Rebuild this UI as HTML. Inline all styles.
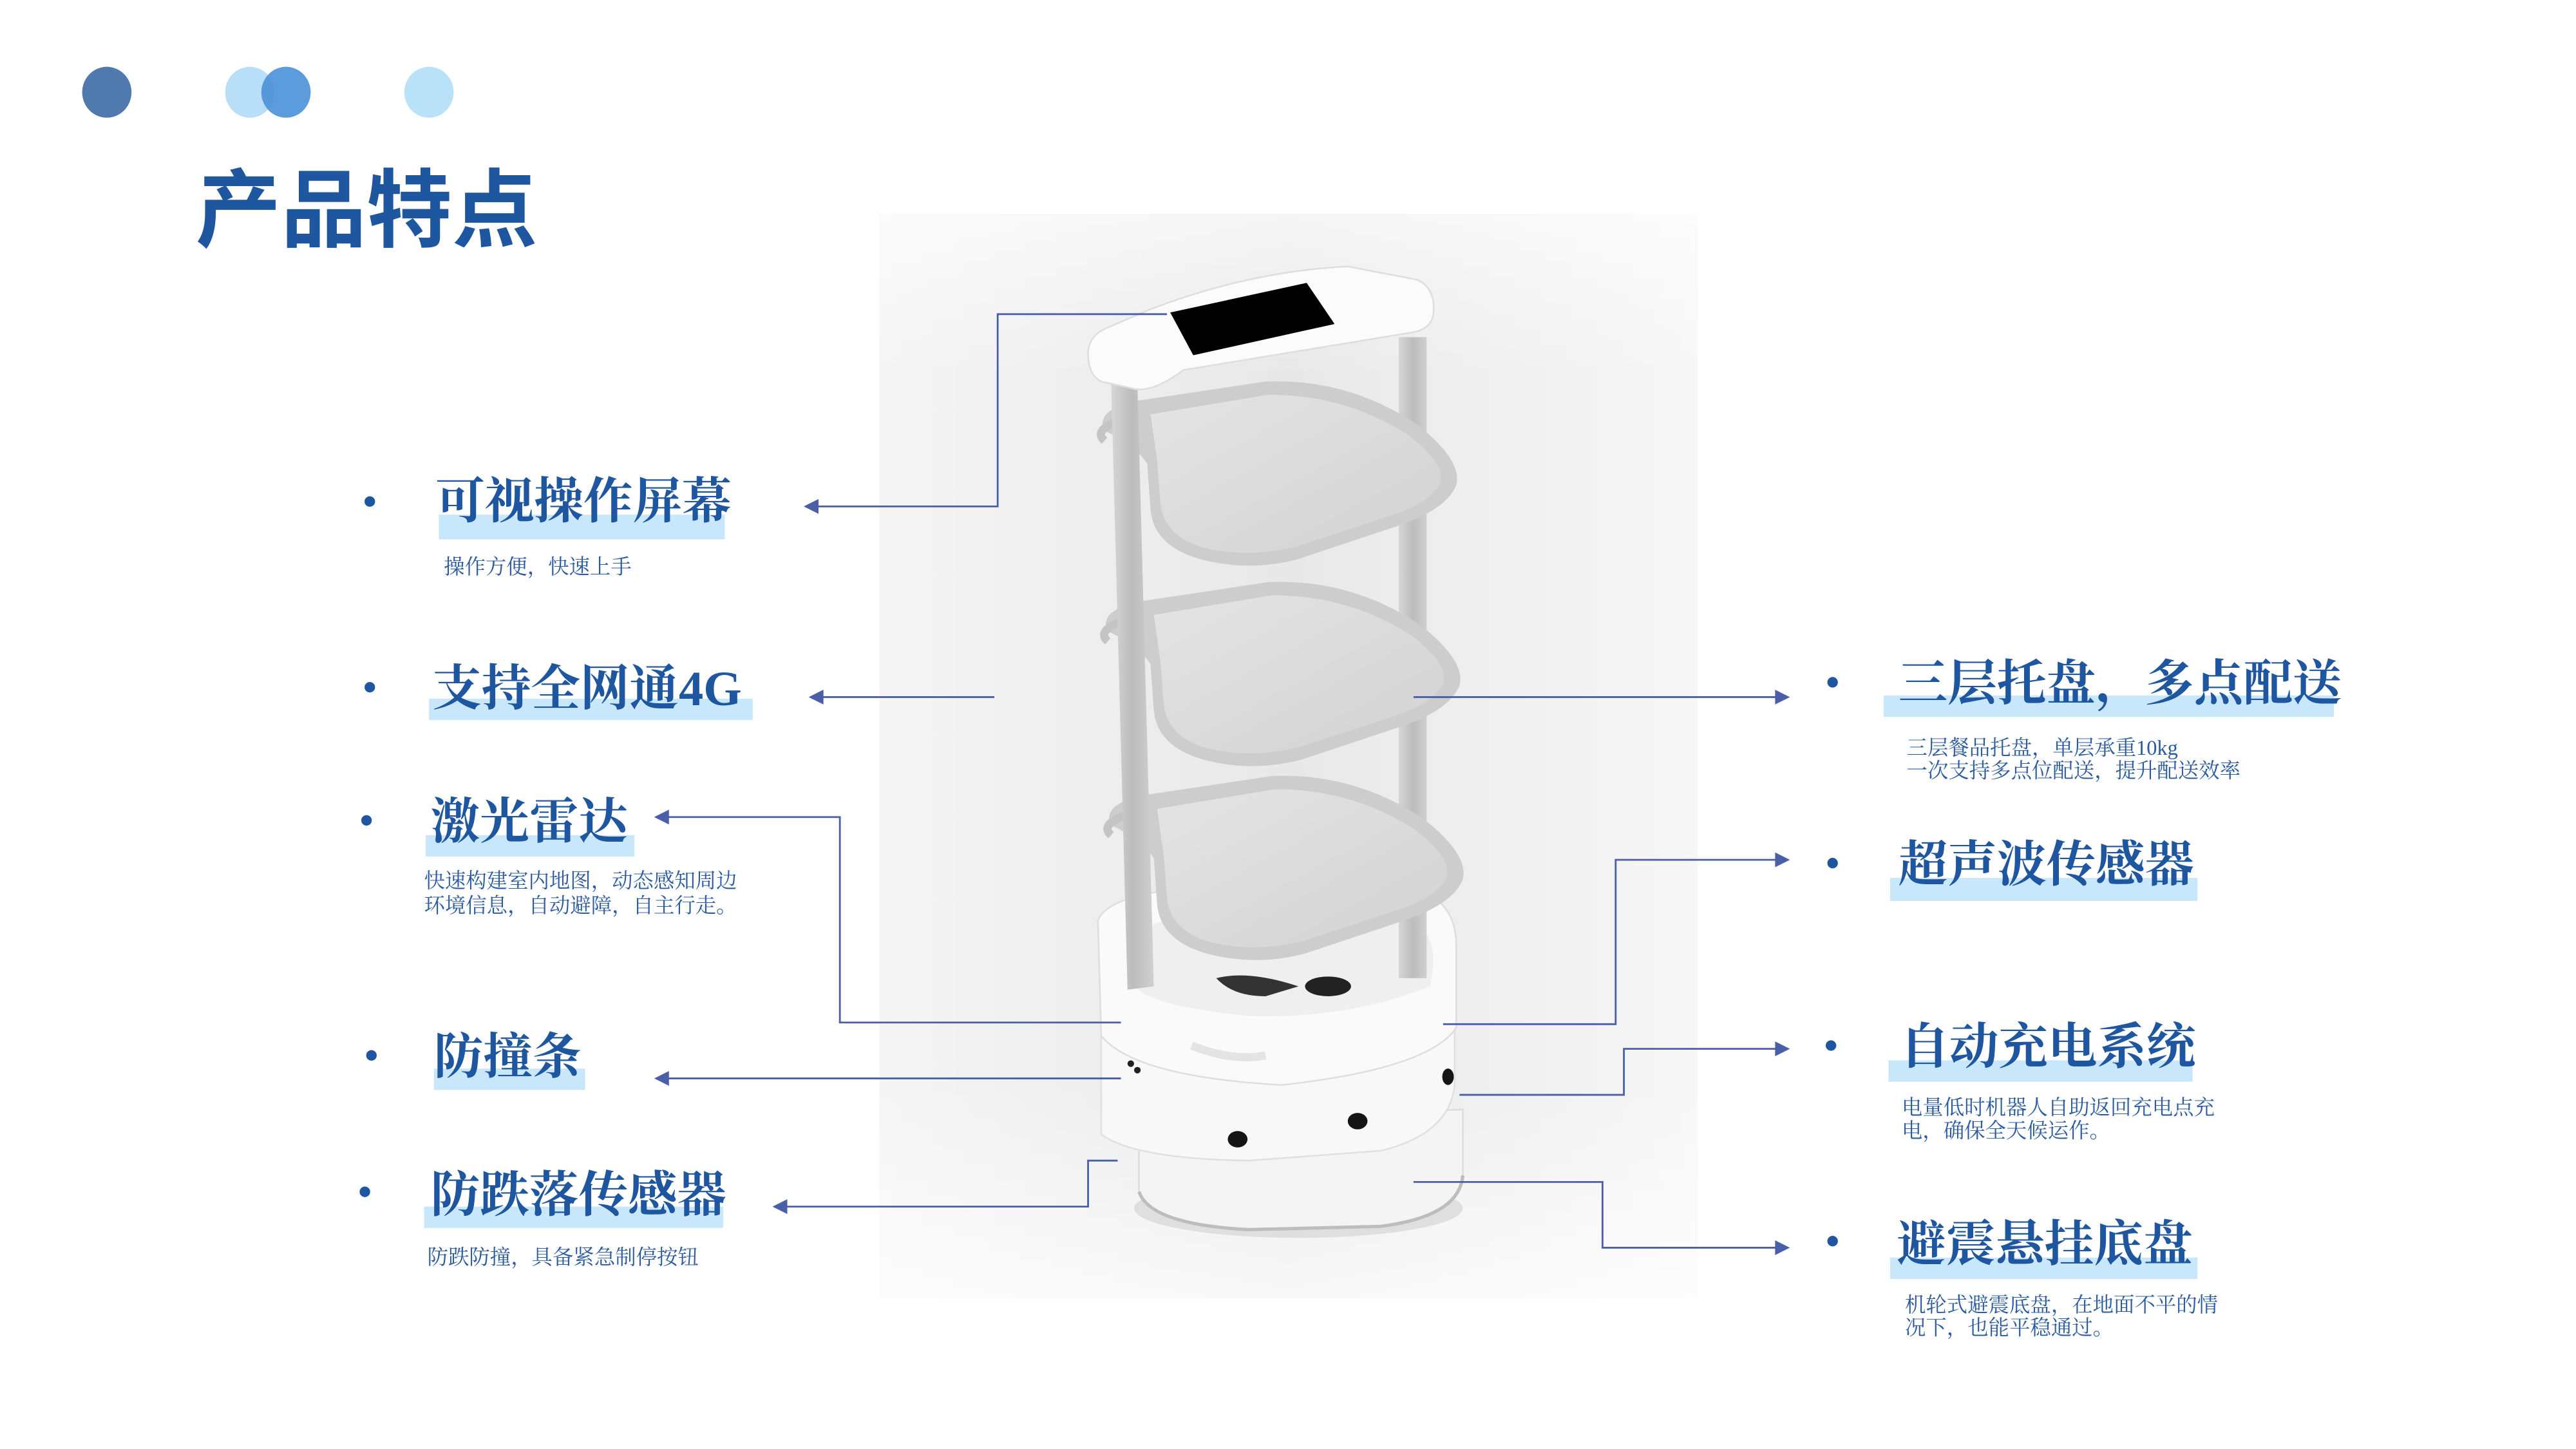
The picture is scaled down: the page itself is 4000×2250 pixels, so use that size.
<!DOCTYPE html>
<html><head><meta charset="utf-8"><style>
html,body{margin:0;padding:0;background:#fff;width:4000px;height:2250px;overflow:hidden}
svg{display:block}
.t{font-family:"Liberation Serif","Noto Serif CJK SC",serif;font-weight:700;font-size:30px;fill:#1f56a0}
.d{font-family:"Liberation Serif","Noto Serif CJK SC",serif;font-size:12.7px;fill:#2a5aa0}
.h{fill:#c9e7fb}
.b{fill:#1f56a0}
.l{stroke:#4a5fa8;stroke-width:1.1;fill:none}
.a{fill:#4a5fa8}
</style></head><body>
<svg width="4000" height="2250" viewBox="0 0 1556 875" xmlns="http://www.w3.org/2000/svg">
<defs>
<linearGradient id="bg" x1="0" y1="0" x2="1" y2="0">
<stop offset="0" stop-color="#f5f5f5"/><stop offset="0.5" stop-color="#e8e8e8"/><stop offset="1" stop-color="#f7f7f7"/>
</linearGradient>
<linearGradient id="fade" x1="0" y1="0" x2="0" y2="1">
<stop offset="0" stop-color="#fff" stop-opacity="0.6"/><stop offset="0.15" stop-color="#fff" stop-opacity="0"/><stop offset="0.8" stop-color="#fff" stop-opacity="0"/><stop offset="1" stop-color="#fff" stop-opacity="0.7"/>
</linearGradient>
<linearGradient id="tray" x1="0" y1="0" x2="1" y2="1">
<stop offset="0" stop-color="#e4e4e4"/><stop offset="1" stop-color="#d2d2d2"/>
</linearGradient>
<linearGradient id="pole" x1="0" y1="0" x2="1" y2="0">
<stop offset="0" stop-color="#d6d6d6"/><stop offset="0.5" stop-color="#bcbcbc"/><stop offset="1" stop-color="#d0d0d0"/>
</linearGradient>
<g id="tr">
<path d="M672,262 Q666,250 690,244 L770,232 Q820,230 862,258 Q890,280 886,295 Q880,310 850,320 L790,340 Q760,348 730,340 Q702,332 700,310 L698,282 Q690,270 672,262 Z" fill="#cdcdcd"/>
<path d="M700,252 L772,240 Q818,240 856,264 Q880,282 876,294 Q870,306 845,314 L790,332 Q760,340 732,333 Q708,326 706,306 L704,280 Z" fill="url(#tray)"/>
<path d="M672,268 Q665,262 680,256" stroke="#c4c4c4" stroke-width="5" fill="none"/>
</g>
</defs>
<g transform="scale(0.9928)">
<ellipse cx="65" cy="56" rx="15" ry="15.5" fill="#5079ad"/>
<ellipse cx="152" cy="56" rx="15" ry="15.5" fill="#b9def8"/>
<ellipse cx="174" cy="56" rx="15" ry="15.5" fill="#4a90d8" opacity="0.9"/>
<ellipse cx="261" cy="56" rx="15" ry="15.5" fill="#b9e2f9"/>
<text x="119" y="146" font-family="'Liberation Sans','Noto Sans CJK SC',sans-serif" font-weight="700" font-size="52" fill="#1f56a0">产品特点</text>

<rect x="535" y="130" width="498" height="660" fill="url(#bg)"/>
<rect x="535" y="130" width="498" height="660" fill="url(#fade)"/>

<ellipse cx="790" cy="735" rx="100" ry="18" fill="#d0d0d0" opacity="0.6"/>
<path d="M693,680 L693,725 Q700,745 760,748 L840,746 Q888,740 890,715 L890,675 Z" fill="#f4f4f4" stroke="#dcdcdc"/>
<path d="M693,725 Q700,745 760,748 L840,746 Q888,740 890,715" fill="none" stroke="#bdbdbd" stroke-width="2"/>
<path d="M670,610 L670,690 Q690,705 760,706 L840,700 Q882,690 885,660 L885,610 Z" fill="#f8f8f8" stroke="#e0e0e0"/>
<path d="M668,560 Q675,540 760,538 L860,540 Q886,548 886,575 L886,625 Q870,650 780,660 Q690,655 670,630 Z" fill="#fafafa" stroke="#dedede"/>
<path d="M690,570 Q700,555 770,555 L855,558 Q878,566 870,600 Q820,620 760,618 Q700,612 690,600 Z" fill="#efefef"/>
<ellipse cx="808" cy="600" rx="14" ry="6" fill="#222"/>
<path d="M740,595 Q760,590 790,600 L770,606 Q750,606 740,595Z" fill="#333"/>
<path d="M725,636 Q750,646 770,642" stroke="#e4e4e4" stroke-width="5" fill="none"/>
<ellipse cx="753" cy="693" rx="6" ry="5" fill="#151515"/>
<ellipse cx="826" cy="682" rx="6" ry="5" fill="#151515"/>
<ellipse cx="881" cy="655" rx="3.5" ry="5" fill="#151515"/>
<circle cx="688" cy="647" r="2" fill="#222"/><circle cx="692" cy="651" r="2" fill="#222"/>
<rect x="851" y="205" width="17" height="390" fill="url(#pole)"/>
<use href="#tr"/>
<use href="#tr" transform="translate(2,122)"/>
<use href="#tr" transform="translate(4,240)"/>
<path d="M676,232 L692,232 L702,600 L686,602 Z" fill="url(#pole)"/>
<path d="M662,215 Q662,205 672,200 L700,188 Q760,165 820,162 L862,170 Q874,175 872,192 Q870,200 860,202 L720,225 Q700,240 688,236 L670,232 Q662,228 662,215Z" fill="#fbfbfb" stroke="#dedede"/>
<path d="M712,190 L795,172 L812,197 L726,216 Z" fill="#000"/>

<polyline class="l" points="710,191 607,191 607,308 496,308"/>
<polygon class="a" points="489,308 498,303.5 498,312.5"/>
<line class="l" x1="605" y1="424" x2="500" y2="424"/>
<polygon class="a" points="492,424 501,419.5 501,428.5"/>
<polyline class="l" points="682,622 511,622 511,497 406,497"/>
<polygon class="a" points="398,497 407,492.5 407,501.5"/>
<line class="l" x1="682" y1="656" x2="406" y2="656"/>
<polygon class="a" points="398,656 407,651.5 407,660.5"/>
<polyline class="l" points="680,706 662,706 662,734 478,734"/>
<polygon class="a" points="470,734 479,729.5 479,738.5"/>
<line class="l" x1="860" y1="424" x2="1081" y2="424"/>
<polygon class="a" points="1089,424 1080,419.5 1080,428.5"/>
<polyline class="l" points="878,623 983,623 983,523 1081,523"/>
<polygon class="a" points="1089,523 1080,518.5 1080,527.5"/>
<polyline class="l" points="888,666 988,666 988,638 1081,638"/>
<polygon class="a" points="1089,638 1080,633.5 1080,642.5"/>
<polyline class="l" points="860,719 975,719 975,759 1081,759"/>
<polygon class="a" points="1089,759 1080,754.5 1080,763.5"/>

<circle class="b" cx="225" cy="305" r="3.2"/>
<rect class="h" x="267" y="313" width="174" height="15"/>
<text class="t" x="265" y="315">可视操作屏幕</text>
<text class="d" x="270" y="349">操作方便，快速上手</text>

<circle class="b" cx="225" cy="418" r="3.2"/>
<rect class="h" x="261" y="425" width="197" height="13"/>
<text class="t" x="263" y="429">支持全网通4G</text>

<circle class="b" cx="223" cy="499" r="3.2"/>
<rect class="h" x="259" y="508" width="127" height="13"/>
<text class="t" x="262" y="510">激光雷达</text>
<text class="d" x="258" y="540">快速构建室内地图，动态感知周边</text>
<text class="d" x="258" y="555">环境信息，自动避障，自主行走。</text>

<circle class="b" cx="226" cy="642" r="3.2"/>
<rect class="h" x="264" y="650" width="92" height="13"/>
<text class="t" x="264" y="653">防撞条</text>

<circle class="b" cx="222" cy="725" r="3.2"/>
<rect class="h" x="258" y="734" width="182" height="13"/>
<text class="t" x="262" y="737">防跌落传感器</text>
<text class="d" x="260" y="769">防跌防撞，具备紧急制停按钮</text>

<circle class="b" cx="1115" cy="415" r="3.2"/>
<rect class="h" x="1146" y="423" width="274" height="13"/>
<text class="t" x="1155" y="426">三层托盘，多点配送</text>
<text class="d" x="1160" y="459">三层餐品托盘，单层承重10kg</text>
<text class="d" x="1160" y="473">一次支持多点位配送，提升配送效率</text>

<circle class="b" cx="1115" cy="525" r="3.2"/>
<rect class="h" x="1150" y="534" width="187" height="14"/>
<text class="t" x="1155" y="536">超声波传感器</text>

<circle class="b" cx="1114" cy="636" r="3.2"/>
<rect class="h" x="1149" y="645" width="185" height="13"/>
<text class="t" x="1156" y="647">自动充电系统</text>
<text class="d" x="1157" y="678">电量低时机器人自助返回充电点充</text>
<text class="d" x="1157" y="692">电，确保全天候运作。</text>

<circle class="b" cx="1115" cy="755" r="3.2"/>
<rect class="h" x="1150" y="765" width="187" height="13"/>
<text class="t" x="1154" y="767">避震悬挂底盘</text>
<text class="d" x="1159" y="798">机轮式避震底盘，在地面不平的情</text>
<text class="d" x="1159" y="812">况下，也能平稳通过。</text>
</g>
</svg>
</body></html>
